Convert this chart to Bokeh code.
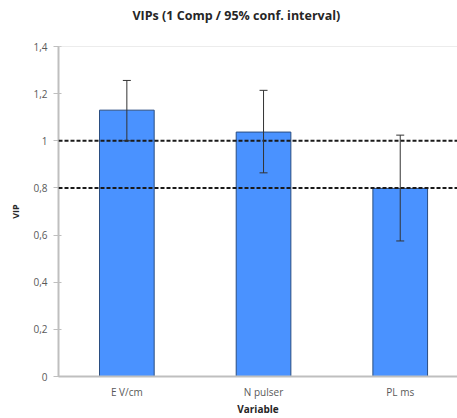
from bokeh.plotting import figure
from bokeh.models import ColumnDataSource, Whisker, Span, FixedTicker, TeeHead, Title
from bokeh.embed import file_html
from bokeh.resources import INLINE

categories = ["E V/cm", "N pulser", "PL ms"]
vip = [1.13, 1.037, 0.798]
ci_lower = [1.0, 0.864, 0.575]
ci_upper = [1.256, 1.214, 1.024]
thresholds = [1.0, 0.8]
y_ticks = [0, 0.2, 0.4, 0.6, 0.8, 1.0, 1.2, 1.4]
y_tick_labels = ["0", "0,2", "0,4", "0,6", "0,8", "1", "1,2", "1,4"]
title_text = "VIPs (1 Comp / 95% conf. interval)"

FONT = "Open Sans"
GRAY_TXT = "#595959"
AXIS_COL = "#bfbfbf"

xpos = list(range(len(categories)))
src = ColumnDataSource(dict(x=xpos, vip=vip, lo=ci_lower, hi=ci_upper))

p = figure(width=457, height=418, output_backend="svg", toolbar_location=None,
           x_range=(-0.5, 2.419), y_range=(0, 1.4),
           min_border_left=58, min_border_right=0, min_border_top=46, min_border_bottom=41)

# spacer panel between the frame and the title
p.add_layout(Title(text=" ", text_font_size="1px", standoff=16), "above")
main_title = Title(text=title_text, align="left", offset=74, standoff=8,
                   text_font=FONT, text_font_size="12.5px", text_font_style="bold",
                   text_color="#262626")
p.add_layout(main_title, "above")

p.outline_line_color = None
p.xgrid.grid_line_color = None
p.ygrid.grid_line_color = None

p.vbar(x="x", top="vip", width=0.4, source=src, fill_color="#4a92ff",
       line_color="#2a4d80", line_width=1)

for t in thresholds:
    p.add_layout(Span(location=t, dimension="width", line_color="#1a1a1a",
                      line_width=2, line_dash="4 2", level="overlay"))

p.add_layout(Span(location=y_ticks[-1], dimension="width", line_color="#d9d9d9", line_width=1))

w = Whisker(base="x", upper="hi", lower="lo", source=src, line_color="#333333", line_width=1,
            upper_head=TeeHead(size=8, line_color="#333333", line_width=1),
            lower_head=TeeHead(size=8, line_color="#333333", line_width=1),
            level="overlay")
p.add_layout(w)

# y axis
p.yaxis.ticker = FixedTicker(ticks=y_ticks)
p.yaxis.major_label_overrides = {t: l for t, l in zip(y_ticks, y_tick_labels)}
p.yaxis.minor_tick_line_color = None
p.yaxis.major_tick_out = 5
p.yaxis.major_tick_in = 3
p.yaxis.major_tick_line_color = AXIS_COL
p.yaxis.axis_line_color = AXIS_COL
p.yaxis.axis_line_width = 2
p.yaxis.major_label_standoff = 6
p.yaxis.major_label_text_font = FONT
p.yaxis.major_label_text_font_size = "10px"
p.yaxis.major_label_text_color = GRAY_TXT
p.yaxis.axis_label = "VIP"
p.yaxis.axis_label_text_font = FONT
p.yaxis.axis_label_text_font_size = "9px"
p.yaxis.axis_label_text_font_style = "bold"
p.yaxis.axis_label_text_color = "#262626"
p.yaxis.axis_label_standoff = 8

# x axis
p.xaxis.ticker = FixedTicker(ticks=xpos)
p.xaxis.major_label_overrides = {i: c for i, c in zip(xpos, categories)}
p.xaxis.minor_tick_line_color = None
p.xaxis.major_tick_line_color = None
p.xaxis.axis_line_color = AXIS_COL
p.xaxis.axis_line_width = 2
p.xaxis.major_label_standoff = 2
p.xaxis.major_label_text_font = FONT
p.xaxis.major_label_text_font_size = "10px"
p.xaxis.major_label_text_color = GRAY_TXT
p.xaxis.axis_label = "Variable"
p.xaxis.axis_label_text_font = FONT
p.xaxis.axis_label_text_font_size = "10px"
p.xaxis.axis_label_text_font_style = "bold"
p.xaxis.axis_label_text_color = "#262626"
p.xaxis.axis_label_standoff = 0

open("out.html", "w").write(file_html(p, INLINE))
